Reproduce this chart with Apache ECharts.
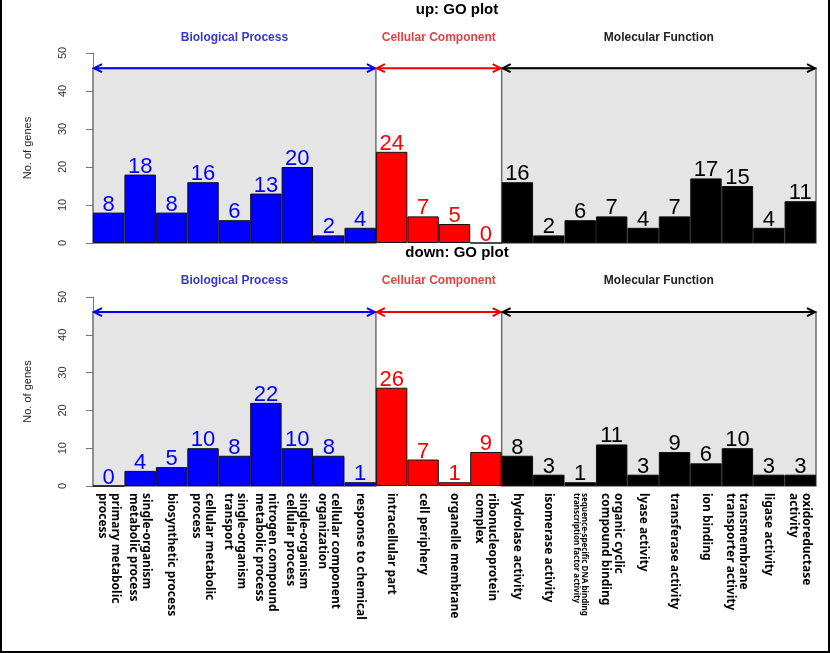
<!DOCTYPE html>
<html><head><meta charset="utf-8">
<script src="https://cdn.jsdelivr.net/npm/echarts@6/dist/echarts.min.js"></script>
<style>
html,body{margin:0;padding:0;background:#fff;}
#c{width:830px;height:653px;box-sizing:border-box;border-left:2px solid #000;border-right:2px solid #000;border-bottom:2px solid #000;}
</style></head>
<body><div id="c"></div>
<script>
const categories = [
  "primary metabolic\nprocess", "single-organism\nmetabolic process", "biosynthetic process",
  "cellular metabolic\nprocess", "single-organism\ntransport", "nitrogen compound\nmetabolic process",
  "single-organism\ncellular process", "cellular component\norganization", "response to chemical",
  "intracellular part", "cell periphery", "organelle membrane", "ribonucleoprotein\ncomplex",
  "hydrolase activity", "isomerase activity", "sequence-specific DNA binding\ntranscription factor activity",
  "organic cyclic\ncompound binding", "lyase activity", "transferase activity", "ion binding",
  "transmembrane\ntransporter activity", "ligase activity", "oxidoreductase\nactivity"
];
const upValues   = [8,18,8,16,6,13,20,2,4, 24,7,5,0, 16,2,6,7,4,7,17,15,4,11];
const downValues = [0,4,5,10,8,22,10,8,1, 26,7,1,9, 8,3,1,11,3,9,6,10,3,3];
const groupNames = ["Biological Process", "Cellular Component", "Molecular Function"];
const groupStart = [0, 9, 13];
const groupEnd   = [9, 13, 23];
const yTicks = [0, 10, 20, 30, 40, 50];
const arrowLevel = 46;
const panelTitles = ["up: GO plot", "down: GO plot"];

const barColors = ["#0000FF", "#FF0000", "#000000"];
const textColors = ["#3838CC", "#E04444", "#222222"];
const arrowColors = ["#0000EE", "#EE0000", "#000000"];
const fills = ["#E5E5E5", null, "#E5E5E5"];

function groupOf(i){ for(let g=0; g<3; g++){ if(i>=groupStart[g] && i<groupEnd[g]) return g; } return 0; }

function barData(vals){
  return vals.map((v,i)=>({value:v, itemStyle:{color:barColors[groupOf(i)]},
    label:{color:barColors[groupOf(i)]}}));
}

function renderGroup(params, api){
  const g = params.dataIndex;
  const s = api.value(0), e = api.value(1);
  const p0 = api.coord([s, 0]);
  const p1 = api.coord([e, arrowLevel]);
  const children = [];
  if (fills[g]) {
    children.push({type:'rect', shape:{x:p0[0], y:p1[1], width:p1[0]-p0[0], height:p0[1]-p1[1]},
      style:{fill:fills[g], stroke:'#6e6e6e', lineWidth:1.5}});
  }
  const y = p1[1], xa = p0[0], xb = p1[0];
  const col = arrowColors[g];
  children.push({type:'line', shape:{x1:xa+1, y1:y, x2:xb-1, y2:y}, style:{stroke:col, lineWidth:2}});
  children.push({type:'polyline', shape:{points:[[xa+9,y-4],[xa+1,y],[xa+9,y+4]]}, style:{stroke:col, lineWidth:2, fill:null}});
  children.push({type:'polyline', shape:{points:[[xb-9,y-4],[xb-1,y],[xb-9,y+4]]}, style:{stroke:col, lineWidth:2, fill:null}});
  children.push({type:'text', style:{text:groupNames[g], x:(xa+xb)/2, y:y-31, align:'center', verticalAlign:'middle',
    fill:textColors[g], font:'bold 12px "Liberation Sans", Arial, sans-serif'}});
  return {type:'group', children};
}

const grids = [{left:91, right:12, top:53, height:190}, {left:91, right:12, top:297, height:189}];
const xAxes = [], yAxes = [], series = [], titles = [];
[upValues, downValues].forEach((vals, k)=>{
  xAxes.push({type:'category', gridIndex:k, data:categories, boundaryGap:true,
    axisLine:{show:false}, axisTick:{show:false},
    axisLabel:{show:k===1, rotate:-90, margin:7, interval:0, color:'#000',
      fontFamily:'"Noto Sans", sans-serif', fontWeight:'bold', fontSize:12, lineHeight:13,
      formatter:function(v){
        if (v.indexOf('sequence-specific')===0){
          const parts = v.split('\n');
          return '{s|'+parts[0]+'}\n{s|'+parts[1]+'}';
        }
        return v;
      },
      rich:{s:{fontSize:8, lineHeight:8, fontWeight:'bold', fontFamily:'"Noto Sans", sans-serif', color:'#000'}}
    }});
  xAxes.push({type:'value', gridIndex:k, min:0, max:categories.length, show:false});
  yAxes.push({type:'value', gridIndex:k, min:yTicks[0], max:yTicks[yTicks.length-1], interval:10, offset:11,
    name:'No. of genes', nameLocation:'middle', nameGap:49,
    nameTextStyle:{fontSize:11, color:'#222', fontFamily:'"Liberation Sans", Arial, sans-serif'},
    splitLine:{show:false},
    axisLine:{show:true, lineStyle:{color:'#777', width:1}},
    axisTick:{show:true, length:7, lineStyle:{color:'#777'}},
    axisLabel:{rotate:90, margin:14, fontSize:11, color:'#333', fontFamily:'"Liberation Sans", Arial, sans-serif'}});
  series.push({type:'custom', xAxisIndex:2*k+1, yAxisIndex:k, z:1, clip:false,
    data: groupStart.map((s,g)=>[s, groupEnd[g]]), renderItem:renderGroup, silent:true});
  series.push({type:'bar', xAxisIndex:2*k, yAxisIndex:k, z:3, barCategoryGap:'0%',
    data: barData(vals),
    itemStyle:{borderColor:'#111', borderWidth:1},
    label:{show:true, position:'top', distance:-3, fontSize:22,
      fontFamily:'"Liberation Sans", Arial, sans-serif'}});
  titles.push({text:panelTitles[k], left:455, top: k===0 ? 2 : 245, padding:0, textAlign:'center',
    textStyle:{fontSize:15, fontWeight:'bold', color:'#000', fontFamily:'"Liberation Sans", Arial, sans-serif'}});
});

const chart = echarts.init(document.getElementById('c'), null, {renderer:'canvas'});
chart.setOption({animation:false, backgroundColor:'#fff', title:titles, grid:grids, xAxis:xAxes, yAxis:yAxes, series});
</script></body></html>
